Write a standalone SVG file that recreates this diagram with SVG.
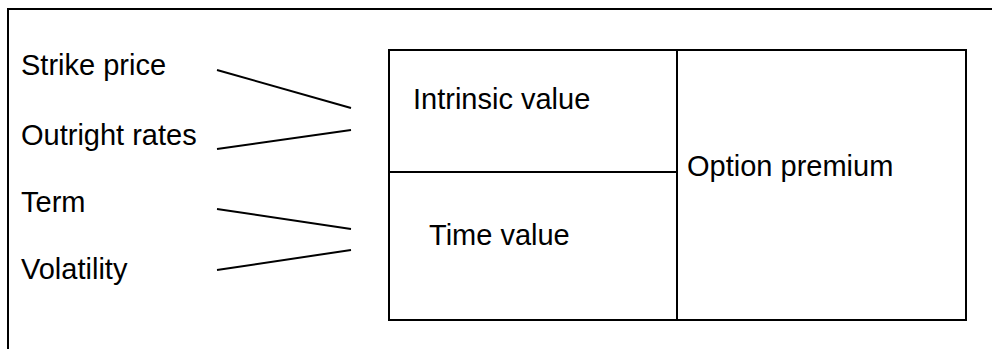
<svg xmlns="http://www.w3.org/2000/svg" width="992" height="349" viewBox="0 0 992 349">
<style>
text{font-family:"Liberation Sans",Arial,sans-serif;font-size:29px;fill:#000}
.box{fill:none;stroke:#000;stroke-width:2}
.ln{stroke:#000;stroke-width:2;fill:none}
</style>
<rect x="0" y="0" width="992" height="349" fill="#fff"/>
<rect class="box" x="8" y="9" width="1000" height="360"/>
<g id="inputs">
<g id="strike"><text x="21" y="75">Strike price</text></g>
<g id="outright"><text x="21" y="144.5">Outright rates</text></g>
<g id="term"><text x="21" y="211.5">Term</text></g>
<g id="volatility"><text x="21" y="278.5">Volatility</text></g>
</g>
<g id="premium-box">
<rect class="box" x="389" y="50" width="577" height="270"/>
<line class="ln" x1="677" y1="50" x2="677" y2="320"/>
<line class="ln" x1="389" y1="172" x2="677" y2="172"/>
</g>
<g id="intrinsic"><text x="413" y="109">Intrinsic value</text></g>
<g id="time"><text x="429" y="245">Time value</text></g>
<g id="option"><text x="687" y="176">Option premium</text></g>
<g id="connectors">
<line class="ln" x1="217" y1="70" x2="351" y2="108"/>
<line class="ln" x1="217" y1="149" x2="351" y2="130"/>
<line class="ln" x1="217" y1="209" x2="351" y2="229"/>
<line class="ln" x1="217" y1="270" x2="351" y2="250"/>
</g>
</svg>
